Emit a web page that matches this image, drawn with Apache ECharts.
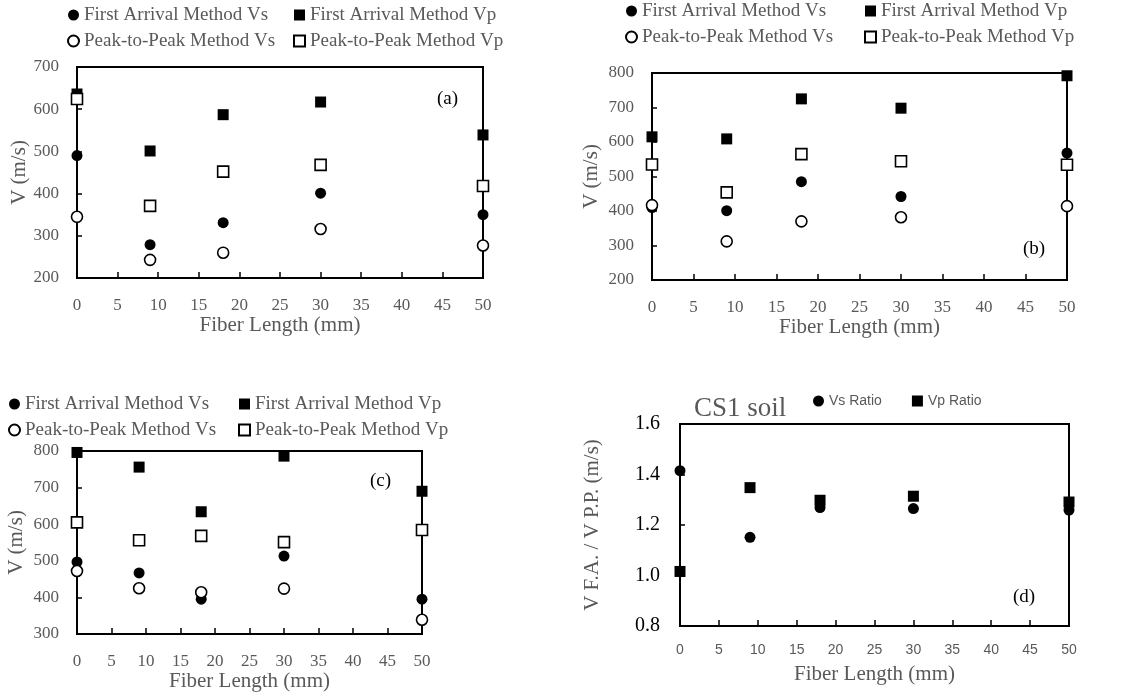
<!DOCTYPE html>
<html><head><meta charset="utf-8">
<script src="https://cdn.jsdelivr.net/npm/echarts@6/dist/echarts.min.js"></script>
<style>html,body{margin:0;padding:0;background:#fff}#c{width:1140px;height:697px}</style>
</head><body><div id="c"></div>
<script>
const fiberLength = [0, 9, 18, 30, 50];
const xTicks = [0, 5, 10, 15, 20, 25, 30, 35, 40, 45, 50];
// panel (a)
const aFaVs = [490, 279, 331, 401, 350];
const aFaVp = [636, 501, 587, 617, 539];
const aPpVs = [345, 243, 260, 316, 277];
const aPpVp = [624, 371, 452, 468, 418];
// panel (b)
const bFaVs = [410, 401, 485, 442, 568];
const bFaVp = [615, 609, 725, 698, 792];
const bPpVs = [417, 312, 370, 382, 414];
const bPpVp = [535, 454, 565, 544, 534];
// panel (c)
const cFaVs = [497, 467, 395, 513, 395];
const cFaVp = [796, 756, 634, 786, 690];
const cPpVs = [472, 425, 414, 424, 339];
const cPpVp = [605, 556, 568, 551, 584];
// panel (d)
const dVsRatio = [1.415, 1.151, 1.269, 1.265, 1.259];
const dVpRatio = [1.016, 1.348, 1.298, 1.314, 1.291];

const yRanges = [[200, 700, 100], [200, 800, 100], [300, 800, 100], [0.8, 1.6, 0.2]];
const names = ['First Arrival Method Vs', 'First Arrival Method Vp', 'Peak-to-Peak Method Vs', 'Peak-to-Peak Method Vp'];

const GRAY = '#595959';
const SERIF = 'Liberation Serif';
const SANS = 'Liberation Sans';

const grids = [
  {left: 77, top: 67, width: 406, height: 211},
  {left: 652, top: 73, width: 415, height: 207},
  {left: 77, top: 451, width: 345, height: 183},
  {left: 680, top: 424, width: 389, height: 202}
].map(g => Object.assign({show: true, borderColor: '#000', borderWidth: 2, backgroundColor: 'transparent'}, g));

const yNameGap = [47, 50, 50, 77];
const xAxes = grids.map((g, i) => ({
  type: 'value', gridIndex: i, min: 0, max: 50, interval: 5,
  name: 'Fiber Length (mm)', nameLocation: 'middle', nameGap: i === 3 ? 38 : 36,
  nameTextStyle: {fontFamily: SERIF, fontSize: 21, color: GRAY},
  axisLine: {show: true, lineStyle: {color: '#000', width: 2}},
  axisTick: {show: true, inside: true, length: 6, lineStyle: {color: '#000', width: 1.5}},
  axisLabel: {margin: i === 3 ? 17 : 19, fontFamily: i === 3 ? SANS : SERIF, fontSize: i === 3 ? 14 : 17, color: GRAY},
  splitLine: {show: false}
}));
const yAxes = grids.map((g, i) => ({
  type: 'value', gridIndex: i, min: yRanges[i][0], max: yRanges[i][1], interval: yRanges[i][2],
  name: i === 3 ? 'V F.A. / V P.P. (m/s)' : 'V (m/s)', nameLocation: 'middle', nameGap: yNameGap[i],
  nameTextStyle: {fontFamily: SERIF, fontSize: 21, color: GRAY},
  axisLine: {show: true, lineStyle: {color: '#000', width: 2}},
  axisTick: {show: true, inside: true, length: 5, lineStyle: {color: '#000', width: 1.5}},
  axisLabel: {margin: i === 3 ? 20 : 18, fontFamily: SERIF, fontSize: i === 3 ? 20 : 17, color: i === 3 ? '#000' : GRAY,
    formatter: v => i === 3 ? v.toFixed(1) : String(v)},
  splitLine: {show: false}
}));

const styles = [
  {symbol: 'circle', itemStyle: {color: '#000', opacity: 1}},
  {symbol: 'rect', itemStyle: {color: '#000', opacity: 1}},
  {symbol: 'circle', itemStyle: {color: '#fff', borderColor: '#000', borderWidth: 1.6, opacity: 1}},
  {symbol: 'rect', itemStyle: {color: '#fff', borderColor: '#000', borderWidth: 1.6, opacity: 1}}
];
const panels = [[aFaVs, aFaVp, aPpVs, aPpVp], [bFaVs, bFaVp, bPpVs, bPpVp], [cFaVs, cFaVp, cPpVs, cPpVp]];
const series = [];
panels.forEach((p, gi) => {
  p.forEach((vals, si) => {
    series.push(Object.assign({
      type: 'scatter', name: names[si], xAxisIndex: gi, yAxisIndex: gi,
      symbolSize: 11, clip: false,
      data: fiberLength.map((x, k) => [x, vals[k]])
    }, JSON.parse(JSON.stringify(styles[si]))));
  });
});
series.push({type: 'scatter', name: 'Vs Ratio', xAxisIndex: 3, yAxisIndex: 3, symbol: 'circle', symbolSize: 11, clip: false,
  itemStyle: {color: '#000', opacity: 1}, data: fiberLength.map((x, k) => [x, dVsRatio[k]])});
series.push({type: 'scatter', name: 'Vp Ratio', xAxisIndex: 3, yAxisIndex: 3, symbol: 'rect', symbolSize: 11, clip: false,
  itemStyle: {color: '#000', opacity: 1}, data: fiberLength.map((x, k) => [x, dVpRatio[k]])});

const legendBase = {orient: 'vertical', itemWidth: 11, itemHeight: 11, itemGap: 6, padding: 0, selectedMode: false,
  textStyle: {fontFamily: SERIF, fontSize: 19, color: GRAY, lineHeight: 20}};
const legendPos = [[67, 293, 5], [625, 864, 1], [8, 238, 394]];
const legends = [];
legendPos.forEach(p => {
  legends.push(Object.assign({}, legendBase, {left: p[0], top: p[2], data: [names[0], names[2]]}));
  legends.push(Object.assign({}, legendBase, {left: p[1], top: p[2], data: [names[1], names[3]]}));
});
legends.push({orient: 'horizontal', left: 813, top: 394, itemWidth: 11, itemHeight: 11, itemGap: 30, padding: 0, selectedMode: false,
  textStyle: {fontFamily: SANS, fontSize: 14, color: GRAY}, data: ['Vs Ratio', 'Vp Ratio']});

const panelLabel = (t, x, y) => ({type: 'text', left: x, top: y, style: {text: t, font: '19px "Liberation Serif"', fill: '#000'}});

const chart = echarts.init(document.getElementById('c'));
chart.setOption({
  animation: false,
  title: {text: 'CS1 soil', left: 689, top: 390, textStyle: {fontFamily: SERIF, fontSize: 27, fontWeight: 'normal', color: GRAY}},
  grid: grids, xAxis: xAxes, yAxis: yAxes, legend: legends, series: series,
  graphic: [panelLabel('(a)', 437, 90), panelLabel('(b)', 1023, 240), panelLabel('(c)', 370, 472), panelLabel('(d)', 1013, 588)]
});
</script></body></html>
